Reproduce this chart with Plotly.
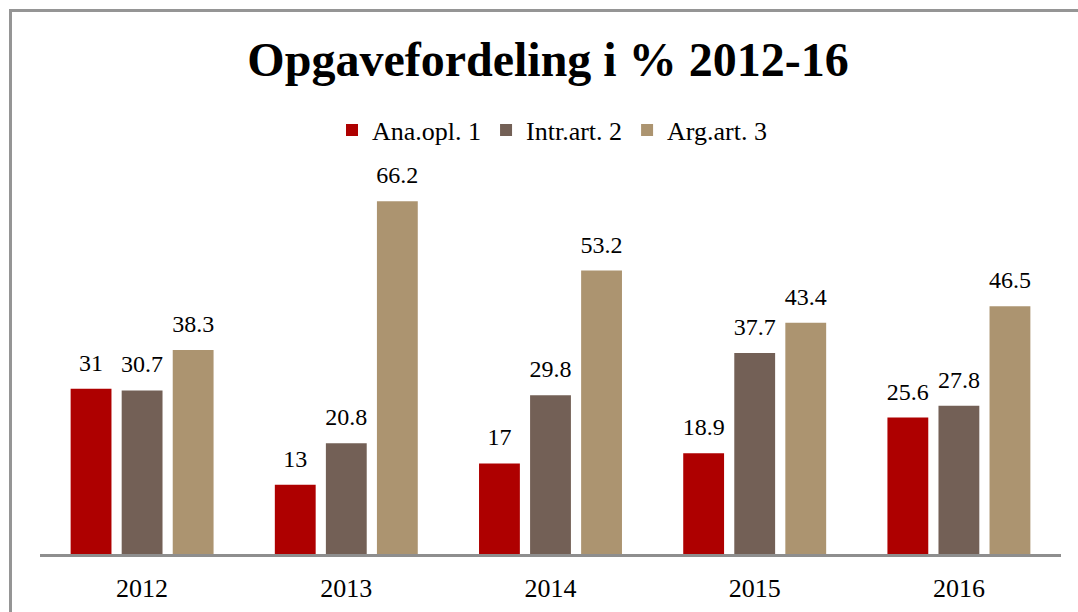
import plotly.graph_objects as go

years = ["2012", "2013", "2014", "2015", "2016"]
series_names = ["Ana.opl. 1", "Intr.art. 2", "Arg.art. 3"]
ana_opl = [31, 13, 17, 18.9, 25.6]
intr_art = [30.7, 20.8, 29.8, 37.7, 27.8]
arg_art = [38.3, 66.2, 53.2, 43.4, 46.5]
colors = ["#AE0000", "#736056", "#AC9470"]

W, H = 1078, 612
ML, MR, MT, MB = 40, 17, 181, 58
FONT = "Liberation Serif"

fig = go.Figure()
all_values = [ana_opl, intr_art, arg_art]
for name, vals, col in zip(series_names, all_values, colors):
    fig.add_trace(go.Bar(x=years, y=vals, name=name, marker=dict(color=col, line=dict(width=0)),
                         hoverinfo="x+y+name"))
for name, vals in zip(series_names, all_values):
    fig.add_trace(go.Scatter(x=years, y=vals, mode="markers+text", text=[f"{v:g}" for v in vals],
                             textposition="top center",
                             textfont=dict(family=FONT, size=24, color="#000000"),
                             marker=dict(size=17.6, color="rgba(0,0,0,0)"),
                             showlegend=False, hoverinfo="skip", cliponaxis=False))

pw = W - ML - MR
ph = H - MT - MB

def px_x(p):
    return (p - ML) / pw

def px_y(p):
    return (H - MB - p) / ph

border = dict(color="#959595", width=3)

fig.update_layout(
    width=W, height=H,
    margin=dict(l=ML, r=MR, t=MT, b=MB, autoexpand=False),
    paper_bgcolor="white", plot_bgcolor="white",
    barmode="group", bargap=0.25, bargroupgap=0.2,
    scattermode="group", scattergap=0.25,
    title=dict(text="<b>Opgavefordeling i % 2012-16</b>", x=548 / W, xref="container", xanchor="center",
               y=1 - 59 / H, yref="container", yanchor="middle",
               font=dict(family=FONT, size=48, color="#000000")),
    legend=dict(orientation="h", x=552 / W, xanchor="center", xref="container",
                y=1 - 130 / H, yanchor="middle", yref="container",
                font=dict(family=FONT, size=26, color="#000000"),
                itemwidth=30, tracegroupgap=0),
    xaxis=dict(showline=True, linecolor="#8E8E8E", linewidth=3, showgrid=False, ticks="",
               tickfont=dict(family=FONT, size=26, color="#000000"), ticklabelstandoff=9,
               automargin=False, zeroline=False),
    yaxis=dict(range=[0, 70], visible=False, showgrid=False, zeroline=False, automargin=False),
    showlegend=True,
    shapes=[
        dict(type="line", xref="paper", yref="paper", x0=px_x(9), x1=px_x(1090),
             y0=px_y(10.5), y1=px_y(10.5), line=border, layer="above"),
        dict(type="line", xref="paper", yref="paper", x0=px_x(10.5), x1=px_x(10.5),
             y0=px_y(9), y1=px_y(630), line=border, layer="above"),
    ],
)

fig.write_html("out.html", config={"displayModeBar": False},
               post_script="document.body.style.margin='0';document.body.style.overflow='hidden';")
